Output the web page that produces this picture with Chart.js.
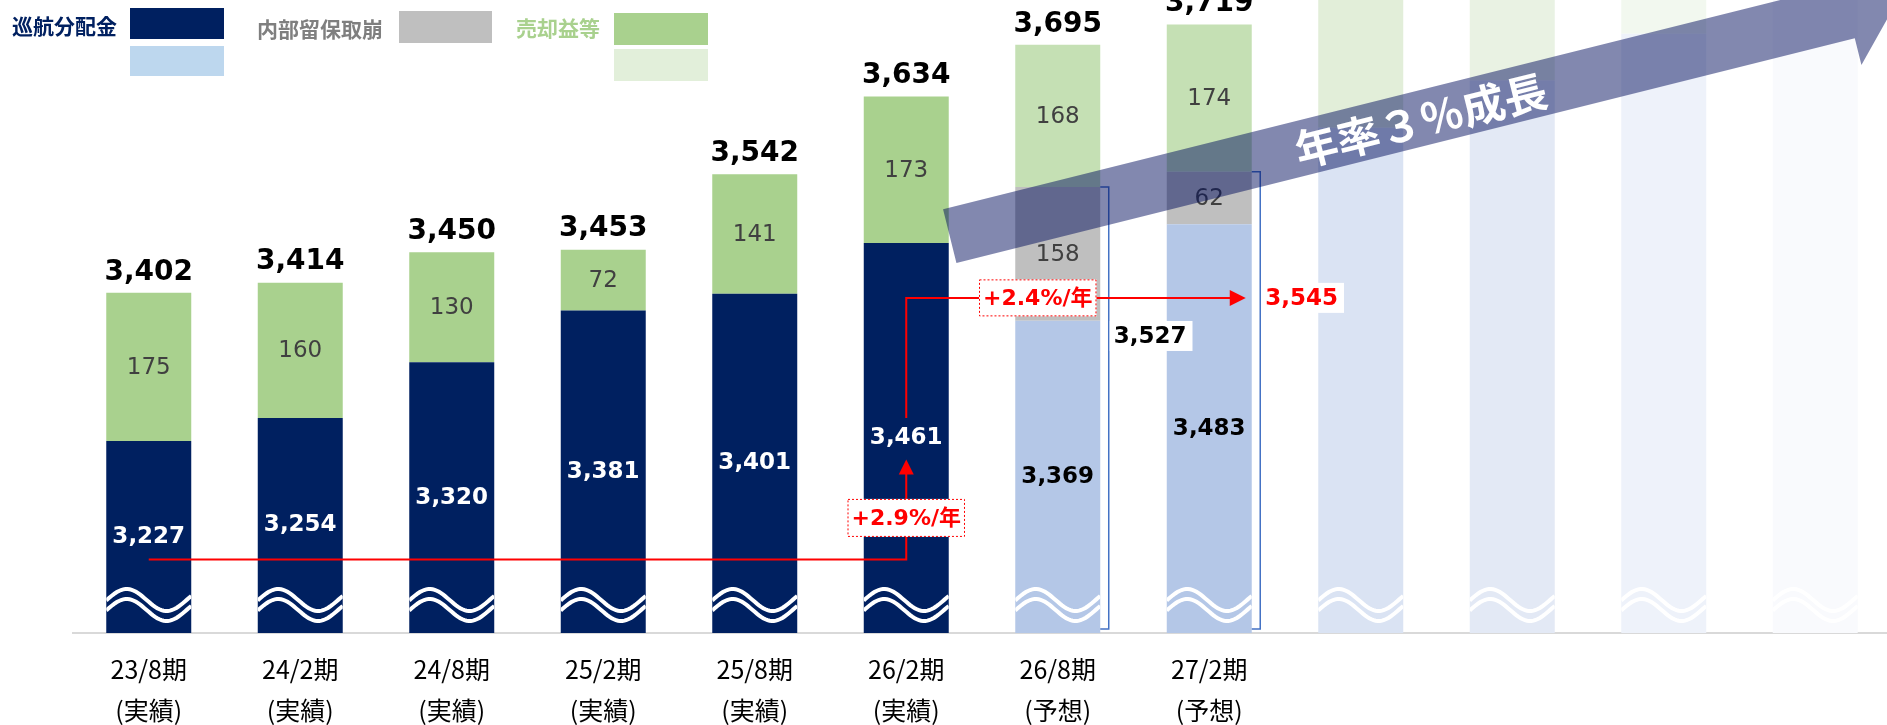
<!DOCTYPE html>
<html lang="ja">
<head>
<meta charset="utf-8">
<title>分配金の推移</title>
<script src="https://cdn.jsdelivr.net/npm/chart.js@4.4.1/dist/chart.umd.min.js"></script>
<style>
  html, body { margin: 0; padding: 0; background: #fff; overflow: hidden; }
  #wrap { position: relative; width: 1887px; height: 725px; overflow: hidden; }
</style>
</head>
<body>
<div id="wrap"><canvas id="chart" width="1891" height="725"></canvas></div>
<script>
// 決算期（右側4本は将来イメージ）
const periods = ['23/8期', '24/2期', '24/8期', '25/2期', '25/8期', '26/2期', '26/8期', '27/2期', '', '', '', ''];
const periodNotes = ['(実績)', '(実績)', '(実績)', '(実績)', '(実績)', '(実績)', '(予想)', '(予想)', '', '', '', ''];

// 1口当たり分配金（円）
const cruiseDist = [3227, 3254, 3320, 3381, 3401, 3461, 3369, 3483, 3597, 3653, 3708, 3763];
const reserveDraw = [null, null, null, null, null, null, 158, 62, null, null, null, null];
const saleGain = [175, 160, 130, 72, 141, 173, 168, 174, 160, 100, 50, 0];

const growthLabels = ['+2.9%/年', '+2.4%/年'];
const arrowText = '年率３％成長';

const distColors = ['#002060', '#002060', '#002060', '#002060', '#002060', '#002060',
  '#b4c7e7', '#b4c7e7', '#dae3f3', '#e3e9f5', '#eef2fa', '#f9fafd'];
const gainColors = ['#a9d18e', '#a9d18e', '#a9d18e', '#a9d18e', '#a9d18e', '#a9d18e',
  '#c5e0b4', '#c5e0b4', '#e2eed9', '#e9f2e3', '#f2f8ef', '#fafcf9'];

const NUM = '"DejaVu Sans", "Noto Sans CJK JP", sans-serif';
const JP = '"Noto Sans CJK JP", sans-serif';
const fmt = v => v.toLocaleString('en-US');
const shown = periods.filter(p => p).length;

function text(ctx, str, x, y, font, color, align) {
  ctx.font = font;
  ctx.fillStyle = color;
  ctx.textAlign = align || 'center';
  ctx.textBaseline = 'middle';
  ctx.fillText(str, x, y);
}

function dottedBox(ctx, str, cx, cy, h) {
  ctx.font = 'bold 22px ' + NUM;
  const w = ctx.measureText(str).width + 8;
  ctx.fillStyle = '#fff';
  ctx.fillRect(cx - w / 2, cy - h / 2, w, h);
  ctx.save();
  ctx.setLineDash([2, 2]);
  ctx.strokeStyle = '#ff0000';
  ctx.lineWidth = 1;
  ctx.strokeRect(cx - w / 2 + 0.5, cy - h / 2 + 0.5, w - 1, h - 1);
  ctx.restore();
  text(ctx, str, cx, cy + 1, 'bold 22px ' + NUM, '#ff0000');
}

const overlay = {
  id: 'overlay',
  afterDatasetsDraw(chart) {
    const { ctx, chartArea: area, scales: { y } } = chart;
    const dist = chart.getDatasetMeta(0).data;
    const res = chart.getDatasetMeta(1).data;
    const gain = chart.getDatasetMeta(2).data;
    const b = area.bottom;

    // 波線（省略記号）
    dist.forEach(bar => {
      const xl = bar.x - bar.width / 2, w = bar.width;
      ctx.save();
      ctx.beginPath();
      ctx.rect(xl, b - 70, w, 70);
      ctx.clip();
      ctx.strokeStyle = '#fff';
      ctx.lineWidth = 4;
      [0, 10].forEach(off => {
        ctx.beginPath();
        for (let k = 0; k <= 40; k++) {
          const t = k / 40;
          const yy = b - 33 + off - 11 * Math.cos(2 * Math.PI * (t - 0.24) / 0.94);
          k ? ctx.lineTo(xl + t * w, yy) : ctx.moveTo(xl + t * w, yy);
        }
        ctx.stroke();
      });
      ctx.restore();
    });

    // 棒の中の数値と合計
    for (let i = 0; i < shown; i++) {
      const d = dist[i];
      const mid = (d.y + Math.min(d.base, b)) / 2;
      text(ctx, fmt(cruiseDist[i]), d.x, mid, 'bold 23px ' + NUM, i < 6 ? '#fff' : '#000');
      if (reserveDraw[i]) {
        const r = res[i];
        text(ctx, fmt(reserveDraw[i]), r.x, (r.y + r.base) / 2 + 1, '23px ' + NUM, '#404040');
      }
      const g = gain[i];
      text(ctx, fmt(saleGain[i]), g.x, (g.y + g.base) / 2 + 1, '23px ' + NUM, '#404040');
      const total = cruiseDist[i] + (reserveDraw[i] || 0) + saleGain[i];
      text(ctx, fmt(total), g.x, g.y - 20.5, 'bold 28px ' + NUM, '#000');
    }

    // ブラケット（巡航分配金＋内部留保取崩）
    const lvl2 = y.getPixelForValue(3396);
    [6, 7].forEach((i, k) => {
      const r = res[i];
      const xr = r.x + r.width / 2;
      const bx = xr + 8.5;
      ctx.strokeStyle = '#4472c4';
      ctx.lineWidth = 1.5;
      ctx.beginPath();
      ctx.moveTo(xr, r.y);
      ctx.lineTo(bx, r.y);
      ctx.lineTo(bx, b - 4);
      ctx.lineTo(xr, b - 4);
      ctx.stroke();
      const str = fmt(cruiseDist[i] + reserveDraw[i]);
      const cy = k === 0 ? y.getPixelForValue(3351) : lvl2;
      ctx.font = 'bold 23px ' + NUM;
      const w = ctx.measureText(str).width;
      ctx.fillStyle = '#fff';
      ctx.fillRect(bx + 1, cy - 15, w + 10, 30);
      text(ctx, str, bx + 5, cy + 1, 'bold 23px ' + NUM, k === 0 ? '#000' : '#ff0000', 'left');
    });

    // 成長率の矢印
    const x0 = dist[0].x, x5 = dist[5].x;
    const lvl1 = y.getPixelForValue(3087);
    const tip1 = y.getPixelForValue(3205);
    ctx.strokeStyle = '#ff0000';
    ctx.fillStyle = '#ff0000';
    ctx.lineWidth = 2;
    ctx.beginPath();
    ctx.moveTo(x0, lvl1);
    ctx.lineTo(x5, lvl1);
    ctx.lineTo(x5, tip1 + 12);
    ctx.stroke();
    ctx.beginPath();
    ctx.moveTo(x5, tip1);
    ctx.lineTo(x5 - 7.5, tip1 + 15);
    ctx.lineTo(x5 + 7.5, tip1 + 15);
    ctx.closePath();
    ctx.fill();
    dottedBox(ctx, growthLabels[0], x5, y.getPixelForValue(3136), 38);

    const tip2 = dist[7].x + dist[7].width / 2 - 6;
    ctx.strokeStyle = '#ff0000';
    ctx.fillStyle = '#ff0000';
    ctx.lineWidth = 2;
    ctx.beginPath();
    ctx.moveTo(x5, y.getPixelForValue(3254));
    ctx.lineTo(x5, lvl2);
    ctx.lineTo(tip2 - 12, lvl2);
    ctx.stroke();
    ctx.beginPath();
    ctx.moveTo(tip2, lvl2);
    ctx.lineTo(tip2 - 16, lvl2 - 8);
    ctx.lineTo(tip2 - 16, lvl2 + 8);
    ctx.closePath();
    ctx.fill();
    dottedBox(ctx, growthLabels[1], dist[6].x - 20, lvl2, 37);

    // 年率３％成長の大矢印
    const tx = dist[5].x + dist[5].width / 2 + 1;
    const ty = y.getPixelForValue(3469);
    ctx.save();
    ctx.translate(tx, ty);
    ctx.rotate(Math.atan2(-1, 4));
    ctx.fillStyle = 'rgba(0, 12, 92, 0.49)';
    ctx.beginPath();
    ctx.moveTo(0, -27.6);
    ctx.lineTo(926, -27.6);
    ctx.lineTo(926, -55);
    ctx.lineTo(978, 0);
    ctx.lineTo(926, 55);
    ctx.lineTo(926, 27.6);
    ctx.lineTo(0, 27.6);
    ctx.closePath();
    ctx.fill();
    text(ctx, arrowText, 485, 2, 'bold 43px ' + JP, '#fff');
    ctx.restore();
  },
  afterDraw(chart) {
    const { ctx } = chart;
    const ds = chart.data.datasets;
    text(ctx, ds[0].label, 12, 26, 'bold 21px ' + JP, '#002060', 'left');
    ctx.fillStyle = '#002060'; ctx.fillRect(130, 8, 94, 31);
    ctx.fillStyle = '#bdd7ee'; ctx.fillRect(130, 46, 94, 30);
    text(ctx, ds[1].label, 257, 29, 'bold 21px ' + JP, '#7f7f7f', 'left');
    ctx.fillStyle = '#bfbfbf'; ctx.fillRect(399, 11, 93, 32);
    text(ctx, ds[2].label, 516, 28, 'bold 21px ' + JP, '#a9d18e', 'left');
    ctx.fillStyle = '#a9d18e'; ctx.fillRect(614, 13, 94, 32);
    ctx.fillStyle = '#e2efda'; ctx.fillRect(614, 49, 94, 32);
  }
};

new Chart(document.getElementById('chart'), {
  type: 'bar',
  data: {
    labels: periods.map((p, i) => p ? [p, periodNotes[i]] : ''),
    datasets: [
      { label: '巡航分配金', data: cruiseDist, backgroundColor: distColors },
      { label: '内部留保取崩', data: reserveDraw, backgroundColor: '#bfbfbf' },
      { label: '売却益等', data: saleGain, backgroundColor: gainColors }
    ]
  },
  options: {
    responsive: false,
    animation: false,
    devicePixelRatio: 1,
    layout: { padding: { left: 73, right: 0, top: 0, bottom: 0 } },
    datasets: { bar: { categoryPercentage: 1, barPercentage: 0.561 } },
    plugins: { legend: { display: false }, tooltip: { enabled: false } },
    scales: {
      x: {
        stacked: true,
        grid: { display: false, drawTicks: false },
        border: { display: true, color: '#d9d9d9', width: 2 },
        ticks: {
          color: '#000',
          padding: 15.5,
          maxRotation: 0,
          autoSkip: false,
          font: { family: JP, size: 25, lineHeight: 1.64 }
        },
        afterFit(scale) { scale.height = 92; }
      },
      y: { stacked: true, display: false, min: 3000, max: 3748 }
    }
  },
  plugins: [overlay]
});
</script>
</body>
</html>
